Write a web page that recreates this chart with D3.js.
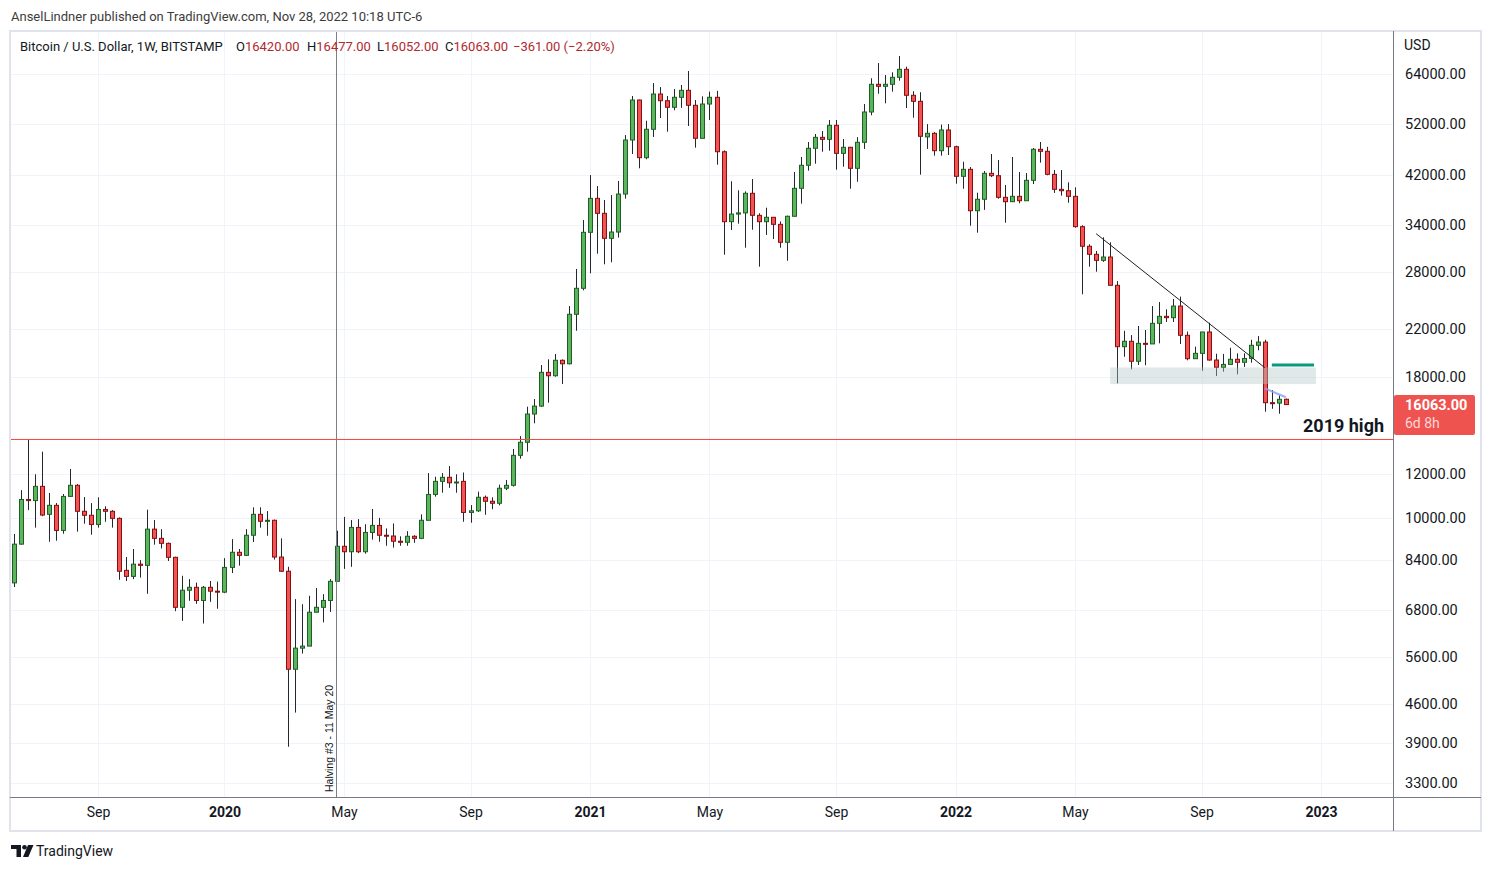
<!DOCTYPE html>
<html lang="en">
<head>
<meta charset="utf-8">
<script src="https://d3js.org/d3.v7.min.js"></script>
<title>Bitcoin / U.S. Dollar, 1W</title>
<style>
  body { margin: 0; background: #fff; }
  svg text { font-family: Roboto, "Noto Sans", sans-serif; }
</style>
</head>
<body>
<script>

// weekly candles, first bar = week of 2019-06-10
var firstWeek = "2019-06-10";

var open = [7620,8960,10800,10750,11410,10150,10540,9490,10940,11460,
  10280,10110,9730,10360,10280,9980,8030,7830,8240,8200,
  9540,9180,8990,8480,6880,7390,7480,7080,7480,7360,
  7330,8130,8660,8550,9300,10150,9860,9900,8490,8000,
  5310,5800,5850,6740,6880,7080,7670,8880,8680,9610,
  8680,9410,9690,9300,9270,9070,9030,9260,9180,9900,
  11030,11650,11850,11580,11650,10230,10300,10900,10720,10630,
  11320,11460,12990,13720,15440,15960,18380,18120,19330,19050,
  23430,26120,33010,38050,35740,32190,33050,38740,48560,57400,
  45100,50790,58860,57240,55680,58060,59780,56150,48910,56450,
  58060,46240,34510,35630,35800,38860,35440,34510,35150,34130,
  31660,35300,39680,43690,46910,49110,48700,51640,45930,47100,
  43140,48100,54600,61300,60790,61300,63120,65270,58550,57090,
  49200,49940,46440,50640,47220,41720,42960,36130,37900,42250,
  41830,38210,37520,38370,37670,41030,46710,46320,42070,39510,
  39280,38370,33800,31140,30110,29360,29770,26450,20460,20930,
  19250,20750,20700,22560,23230,23100,24250,21460,19460,19900,
  21760,19350,18770,19000,19410,19170,19480,20580,20860,16190,
  16160,16420];

var high = [9350,11230,13850,12000,13190,11100,10640,11050,12270,11520,
  10910,10640,10900,10500,10330,10020,8490,8780,8380,10350,
  9910,9540,9020,8500,7850,7740,7630,7520,7680,7660,
  8450,9150,8780,9540,10450,10450,10290,9930,9180,8150,
  7120,6970,7220,7460,7270,7740,9480,10040,9910,9950,
  9740,10380,10000,9570,9770,9260,9460,9300,10150,12060,
  11880,12060,12420,12000,12090,10550,11160,10980,10900,11490,
  11720,13340,14080,15920,16440,18950,19410,19850,19400,24250,
  28320,34760,41940,40050,37780,38580,40920,49580,58370,57500,
  52650,61630,60600,58370,60100,61120,64810,57400,58300,59440,
  59640,46500,40870,39350,39170,41250,35750,36590,35200,34550,
  35400,42480,45230,48160,49800,50430,52800,52800,48770,47200,
  49160,56450,62870,67010,63730,64460,69000,66000,59550,59300,
  51900,50200,51800,51900,47420,44350,43380,38960,42660,45800,
  44670,40230,45230,42480,42300,46970,48160,47200,42840,42840,
  40690,39840,34000,31400,30530,32330,31660,26920,21870,21480,
  22310,21940,24250,24660,23920,24980,25230,21800,20470,21760,
  22620,19870,19850,20370,19900,19900,21060,21390,21060,17070,
  16700,16477];

var low = [7490,8940,10330,9600,10070,9050,9090,9360,10940,9440,
  9760,9320,9600,9840,9600,7720,7680,7740,7790,7280,
  8940,8800,8350,6770,6500,7070,6980,6430,7040,6840,
  7300,7940,8190,8530,9040,9600,9280,8400,7980,3840,
  4430,5670,5850,6740,6460,6750,7670,8080,8150,8630,
  8610,9130,9050,8900,8830,8900,8900,9010,9150,9900,
  10930,11110,11340,11110,9840,9800,10250,10130,10370,10540,
  11230,11400,12810,13190,14850,15900,16190,18050,17500,19000,
  21870,25900,27810,30190,28880,29120,32300,38000,45800,43140,
  44800,49180,53240,50280,55000,55550,51490,47030,48910,52800,
  43800,30060,33330,34220,30950,33370,28590,32650,32100,30950,
  29310,35300,37210,42720,43980,46240,46440,42890,43430,39610,
  40790,46780,53850,58940,56620,59440,62230,55520,53310,42010,
  46780,45480,45480,45610,40450,39610,33930,32960,36260,41600,
  37990,34360,37520,37270,37670,40400,44170,41900,38920,38470,
  37360,33650,25470,28590,28000,29170,26450,17550,19620,18610,
  18960,18930,20700,20750,22690,22690,20690,19330,19450,18500,
  19300,18100,18430,19000,18230,18800,19140,20150,15590,15780,
  15460,16052];

var close = [8960,10800,10750,11410,10120,10540,9490,10940,11460,10280,
  10110,9730,10360,10280,9980,8000,7830,8240,8200,9540,
  9180,8990,8480,6880,7390,7480,7080,7480,7360,7330,
  8130,8660,8550,9300,10150,9860,9900,8490,8000,5310,
  5800,5850,6740,6880,7080,7670,8880,8680,9610,8680,
  9410,9690,9300,9270,9070,9030,9260,9180,9900,11030,
  11650,11850,11580,11620,10230,10300,10900,10720,10630,11320,
  11460,12990,13720,15440,15960,18380,18120,19330,19050,23430,
  26120,33010,38050,35740,32190,33050,38740,48560,57400,45100,
  50790,58860,57240,55680,58060,59780,56150,48910,56450,58060,
  46240,34510,35630,35800,38860,35440,34510,35150,34130,31660,
  35300,39680,43690,46910,49110,48700,51640,45930,47100,43140,
  48100,54600,61300,60790,61300,63120,65270,58550,57090,49320,
  49940,46440,50640,47220,41720,42960,36130,37900,42250,41830,
  38210,37520,38370,37670,41030,46710,46320,42070,39510,39280,
  38370,33800,31140,30110,29360,29770,26450,20460,20930,19250,
  20750,20700,22560,23230,23100,24250,21460,19460,19900,21760,
  19350,18770,19000,19410,19170,19480,20580,20860,16190,16160,
  16420,16063];

var priceTicks = [64000,52000,42000,34000,28000,22000,18000,12000,10000,8400,6800,5600,4600,3900,3300];
var timeTicks = ["2019-09-02","2020-01-06","2020-05-04","2020-09-07","2021-01-04","2021-05-03",
                 "2021-09-06","2022-01-03","2022-05-02","2022-09-05","2023-01-02"];
var timeLabels = ["Sep","2020","May","Sep","2021","May","Sep","2022","May","Sep","2023"];

// drawings
var high2019 = 13880;
var halvingWeek = "2020-04-27";
var trendLine = [["2022-05-23", 32820], ["2022-11-07", 18740]];
var zone = [["2022-06-06", 18760], ["2022-12-28", 17500]];
var tealLevel = [["2022-11-14", 18950], ["2022-12-26", 18950]];
var blueLine = [["2022-11-07", 17190], ["2022-11-28", 16560]];
var lastPrice = 16063;

var W = 1492, H = 870;
var plot = {left: 10, right: 1393, top: 31, bottom: 797};

var parse = d3.utcParse("%Y-%m-%d");
var weeks = close.map(function (d, i){ return d3.utcWeek.offset(parse(firstWeek), i); });

var x = d3.scaleUtc()
  .domain([weeks[0], weeks[weeks.length - 1]])
  .range([13.6, 1285.9]);
var y = d3.scaleLog().domain([3300, 64000]).range([783, 74]);

var svg = d3.select("body").append("svg")
  .attr("width", W)
  .attr("height", H);

svg.append("clipPath").attr("id", "plotclip")
  .append("rect")
  .attr("x", plot.left + 1).attr("y", plot.top)
  .attr("width", plot.right - plot.left - 1).attr("height", plot.bottom - plot.top);

// grid
var grid = svg.append("g").attr("stroke", "#f0f3fa").attr("stroke-width", 1);
priceTicks.forEach(function (p){
  var yy = Math.round(y(p)) + 0.5;
  grid.append("line").attr("x1", plot.left).attr("x2", plot.right).attr("y1", yy).attr("y2", yy);
});
timeTicks.forEach(function (t){
  var xx = Math.round(x(parse(t))) + 0.5;
  grid.append("line").attr("x1", xx).attr("x2", xx).attr("y1", plot.top).attr("y2", plot.bottom);
});

var chart = svg.append("g").attr("clip-path", "url(#plotclip)");

// halving marker
var xHalv = Math.round(x(parse(halvingWeek))) - 1;
svg.append("rect")
  .attr("x", xHalv).attr("y", plot.top)
  .attr("width", 1).attr("height", plot.bottom - plot.top)
  .attr("fill", "#7b7e86");

// 2019 high
var yHigh = Math.round(y(high2019));
svg.append("rect")
  .attr("x", plot.left).attr("y", yHigh)
  .attr("width", plot.right - plot.left).attr("height", 1)
  .attr("fill", "#ff4444");

// candles
var candles = chart.selectAll("g.candle").data(close).enter().append("g").attr("class", "candle");
candles.each(function (c, i){
  var g = d3.select(this);
  var up = c >= open[i];
  var bx = Math.round(x(weeks[i]) - 2) + 0.5;
  var cx = bx + 2;
  var top = y(Math.max(open[i], c));
  var bot = y(Math.min(open[i], c));
  g.append("line")
    .attr("x1", cx).attr("x2", cx)
    .attr("y1", y(high[i])).attr("y2", y(low[i]))
    .attr("stroke", "#232830").attr("stroke-width", 1);
  g.append("rect")
    .attr("x", bx).attr("width", 4)
    .attr("y", top).attr("height", Math.max(bot - top, 1))
    .attr("fill", up ? "#5bb55f" : "#f05454")
    .attr("stroke", up ? "#1f5e23" : "#8b0e0e")
    .attr("stroke-width", 1);
});

// zone
chart.append("rect")
  .attr("x", x(parse(zone[0][0])))
  .attr("y", y(zone[0][1]))
  .attr("width", x(parse(zone[1][0])) - x(parse(zone[0][0])))
  .attr("height", y(zone[1][1]) - y(zone[0][1]))
  .attr("fill", "#b2c8c2").attr("fill-opacity", 0.4);

// trend line
chart.append("line")
  .attr("x1", x(parse(trendLine[0][0]))).attr("y1", y(trendLine[0][1]))
  .attr("x2", x(parse(trendLine[1][0]))).attr("y2", y(trendLine[1][1]))
  .attr("stroke", "#1e1e1e").attr("stroke-width", 1);

chart.append("line")
  .attr("x1", x(parse(tealLevel[0][0]))).attr("y1", y(tealLevel[0][1]))
  .attr("x2", x(parse(tealLevel[1][0]))).attr("y2", y(tealLevel[1][1]))
  .attr("stroke", "#089981").attr("stroke-width", 3);

chart.append("line")
  .attr("x1", x(parse(blueLine[0][0]))).attr("y1", y(blueLine[0][1]))
  .attr("x2", x(parse(blueLine[1][0]))).attr("y2", y(blueLine[1][1]))
  .attr("stroke", "#8aa4f8").attr("stroke-width", 2).attr("stroke-opacity", 0.85);

// halving label
svg.append("text")
  .attr("transform", "translate(" + (xHalv - 3.5) + ",792) rotate(-90)")
  .style("font-family", "'Liberation Sans', Arial, sans-serif")
  .attr("font-size", 10.5)
  .attr("fill", "#131722")
  .text("Halving #3 - 11 May 20");

svg.append("text")
  .attr("x", 1384).attr("y", yHigh - 7)
  .attr("text-anchor", "end")
  .attr("font-size", 18).attr("font-weight", "bold")
  .attr("fill", "#131722")
  .text("2019 high");

// frame
svg.append("rect")
  .attr("x", 10).attr("y", 31).attr("width", 1471).attr("height", 800)
  .attr("fill", "none").attr("stroke", "#e0e3eb").attr("stroke-width", 2);
svg.append("line")
  .attr("x1", plot.right + 0.5).attr("x2", plot.right + 0.5).attr("y1", 31).attr("y2", 831)
  .attr("stroke", "#787b86");
svg.append("line")
  .attr("x1", 10).attr("x2", 1481).attr("y1", plot.bottom + 0.5).attr("y2", plot.bottom + 0.5)
  .attr("stroke", "#787b86");

// price axis
var yAxis = svg.append("g")
  .attr("transform", "translate(" + plot.right + ",0)")
  .call(d3.axisRight(y).tickValues(priceTicks).tickFormat(d3.format(".2f")).tickSize(0).tickPadding(12));
yAxis.select(".domain").remove();
yAxis.selectAll("text").attr("font-size", 14.5).attr("fill", "#131722")
  .style("font-family", "Roboto, sans-serif");

svg.append("text").attr("x", 1404).attr("y", 50)
  .attr("font-size", 14).attr("fill", "#131722").text("USD");

// last price tag
var yLast = y(lastPrice);
svg.append("rect")
  .attr("x", 1394).attr("y", Math.round(yLast) - 10)
  .attr("width", 81).attr("height", 40)
  .attr("rx", 2)
  .attr("fill", "#ef5350");
svg.append("text").attr("x", 1405).attr("y", Math.round(yLast) + 5)
  .attr("font-size", 14.5).attr("font-weight", "bold").attr("fill", "#ffffff")
  .text(d3.format(".2f")(lastPrice));
svg.append("text").attr("x", 1405).attr("y", Math.round(yLast) + 23)
  .attr("font-size", 14).attr("fill", "#ffd6d6")
  .text("6d 8h");

// time axis
var xAxis = svg.append("g")
  .attr("transform", "translate(0," + plot.bottom + ")")
  .call(d3.axisBottom(x).tickValues(timeTicks.map(parse))
    .tickFormat(function (d, i){ return timeLabels[i]; })
    .tickSize(0).tickPadding(10));
xAxis.select(".domain").remove();
xAxis.selectAll("text")
  .attr("font-size", 14).attr("fill", "#131722")
  .style("font-family", "Roboto, sans-serif")
  .attr("font-weight", function (d, i){ return /^\d/.test(timeLabels[i]) ? "bold" : "normal"; });

// header and legend
svg.append("text").attr("x", 11).attr("y", 21)
  .attr("font-size", 13).attr("fill", "#3c3c3c")
  .text("AnselLindner published on TradingView.com, Nov 28, 2022 10:18 UTC-6");

var legend = [
  {x: 20, k: "Bitcoin / U.S. Dollar, 1W, BITSTAMP", v: ""},
  {x: 236, k: "O", v: d3.format(".2f")(open[open.length - 1])},
  {x: 307, k: "H", v: d3.format(".2f")(high[high.length - 1])},
  {x: 377, k: "L", v: d3.format(".2f")(low[low.length - 1])},
  {x: 445, k: "C", v: d3.format(".2f")(close[close.length - 1])},
  {x: 513, k: "", v: "\u2212361.00 (\u22122.20%)"}
];
legend.forEach(function (l){
  var t = svg.append("text").attr("x", l.x).attr("y", 51).attr("font-size", 13);
  t.append("tspan").attr("fill", "#131722").text(l.k);
  t.append("tspan").attr("fill", "#b2282e").text(l.v);
});

// TradingView footer
var logo = svg.append("g").attr("fill", "#131722");
logo.append("path").attr("d", "M11 845 h10 v12 h-4.5 v-8 h-5.5 z");
logo.append("circle").attr("cx", 24.5).attr("cy", 847.3).attr("r", 2.3);
logo.append("path").attr("d", "M28 845 h5.5 l-5.2 12 h-5.3 z");
svg.append("text").attr("x", 36).attr("y", 856)
  .attr("font-size", 14).attr("fill", "#131722").text("TradingView");

</script>
</body>
</html>
